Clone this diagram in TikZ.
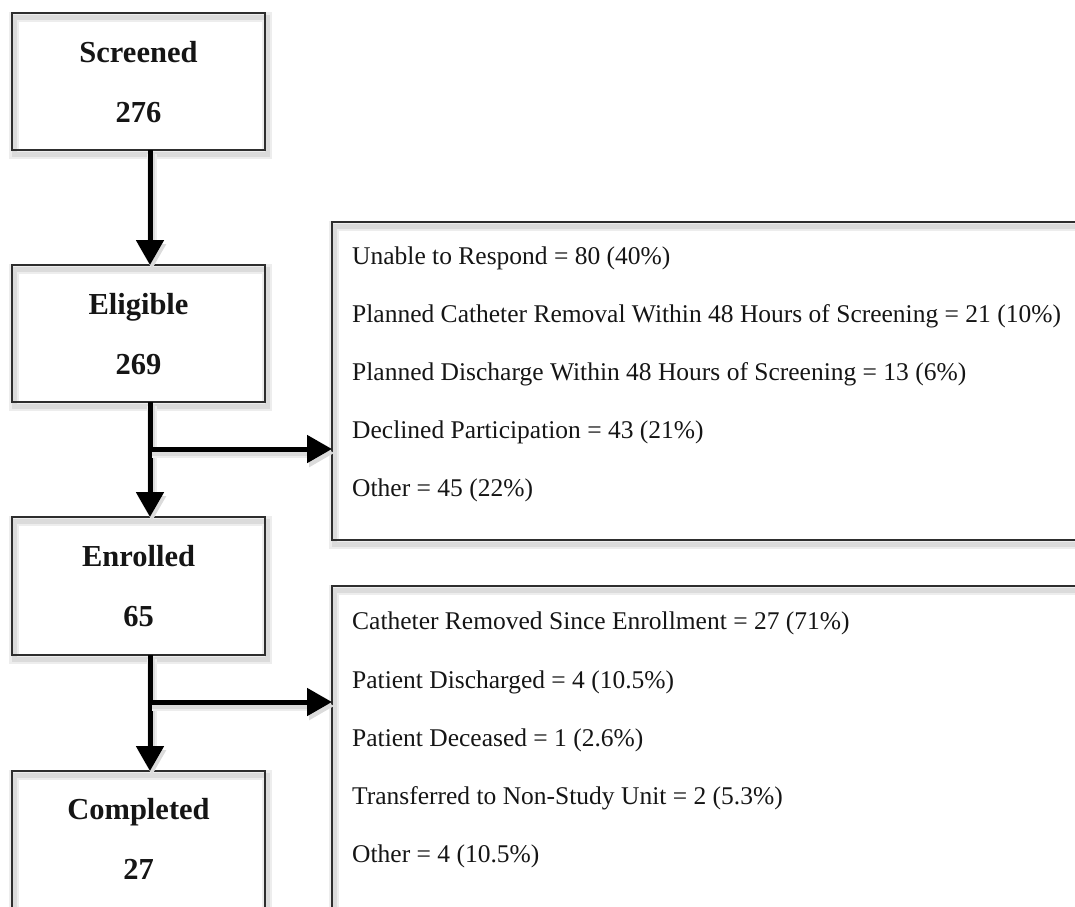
\documentclass[tikz,border=0pt]{standalone}
\usepackage{fontspec}
\setmainfont{Liberation Serif}
\usetikzlibrary{arrows.meta,calc}
\definecolor{ink}{HTML}{151515}
\definecolor{edge}{HTML}{2E2E2E}
\begin{document}
\begin{tikzpicture}[x=1pt,y=-1pt,
  shadowed/.style={
    preaction={draw=black!7, line width=10pt, transform canvas={shift={(2pt,-4pt)}}},
    preaction={draw=black!14, line width=5pt, transform canvas={shift={(2pt,-4pt)}}}},
  stage/.style={shadowed, draw=edge, line width=1.5pt, anchor=north west, inner sep=0pt,
    minimum width=253pt, outer sep=0pt},
  exclbox/.style={shadowed, draw=edge, line width=1.5pt, anchor=north west, inner sep=0pt,
    minimum width=753pt, outer sep=0pt},
  stagelabel/.style={anchor=base, text=ink, font=\fontsize{30.5}{36}\selectfont\bfseries, inner sep=0pt},
  reason/.style={anchor=base west, text=ink, font=\fontsize{25.5}{30}\selectfont, inner sep=0pt},
  arr/.style={shadowed, draw=black, line width=5pt, -{Triangle[length=25pt,width=27pt]}}
]
\useasboundingbox (0,0) rectangle (1075,906);
\clip (0,0) rectangle (1075,906);

% stage boxes
\node[stage, minimum height=137pt] (screened) at (12,13) {};
\node[stage, minimum height=137pt] (eligible) at (12,265) {};
\node[stage, minimum height=138pt] (enrolled) at (12,517) {};
\node[stage, minimum height=160pt] (completed) at (12,771) {};

% exclusion boxes
\node[exclbox, minimum height=318pt] (excl1) at (332,222) {};
\node[exclbox, minimum height=340pt] (excl2) at (332,586) {};

% stage labels
\node[stagelabel] (screenedA) at (138.5,62) {Screened};
\node[stagelabel] (screenedB) at (138.5,122) {276};
\node[stagelabel] (eligibleA) at (138.5,314) {Eligible};
\node[stagelabel] (eligibleB) at (138.5,374) {269};
\node[stagelabel] (enrolledA) at (138.5,566) {Enrolled};
\node[stagelabel] (enrolledB) at (138.5,626) {65};
\node[stagelabel] (completedA) at (138.5,819) {Completed};
\node[stagelabel] (completedB) at (138.5,879) {27};

% exclusion reasons
\node[reason] (r11) at (352,264) {Unable to Respond = 80 (40\%)};
\node[reason] (r12) at (352,322) {Planned Catheter Removal Within 48 Hours of Screening = 21 (10\%)};
\node[reason] (r13) at (352,380) {Planned Discharge Within 48 Hours of Screening = 13 (6\%)};
\node[reason] (r14) at (352,438) {Declined Participation = 43 (21\%)};
\node[reason] (r15) at (352,496) {Other = 45 (22\%)};

\node[reason] (r21) at (352,629) {Catheter Removed Since Enrollment = 27 (71\%)};
\node[reason] (r22) at (352,688) {Patient Discharged = 4 (10.5\%)};
\node[reason] (r23) at (352,746) {Patient Deceased = 1 (2.6\%)};
\node[reason] (r24) at (352,804) {Transferred to Non-Study Unit = 2 (5.3\%)};
\node[reason] (r25) at (352,862) {Other = 4 (10.5\%)};

% connectors
\coordinate (trunk) at (150,0);
\coordinate (b1) at (150,449);
\coordinate (b2) at (150,702);

\draw[arr] (screened.south -| trunk) -- (eligible.north -| trunk);
\draw[arr] (eligible.south -| trunk) -- (enrolled.north -| trunk);
\draw[arr] (b1) -- (b1 -| excl1.west);
\draw[arr] (enrolled.south -| trunk) -- (completed.north -| trunk);
\draw[arr] (b2) -- (b2 -| excl2.west);
\end{tikzpicture}
\end{document}
